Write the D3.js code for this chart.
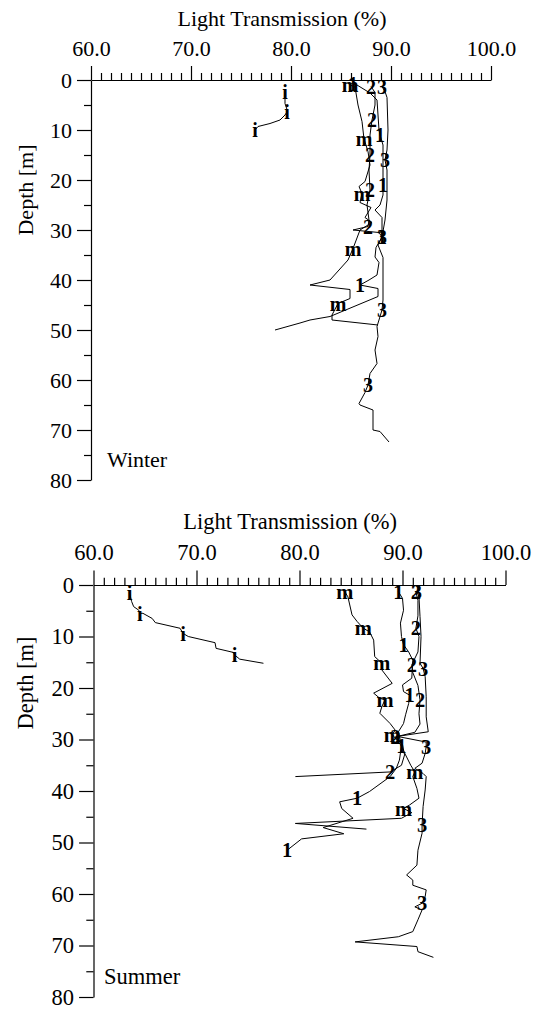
<!DOCTYPE html>
<html><head><meta charset="utf-8">
<script src="https://cdn.jsdelivr.net/npm/d3@7"></script>
<style>
body{margin:0;background:#fff}
</style>
</head><body>
<svg id="chart" width="545" height="1009" font-family="'Liberation Serif', 'Times New Roman', serif"></svg>
<script>
// ---------- axis definitions ----------
const xMajorTicks = [60, 70, 80, 90, 100];
const xTickLabels = ["60.0", "70.0", "80.0", "90.0", "100.0"];
const yMajorTicks = [0, 10, 20, 30, 40, 50, 60, 70, 80];
const yMinorTicks = [5, 15, 25, 35, 45, 55, 65, 75];
const xTitle = "Light Transmission (%)";
const yTitle = "Depth [m]";
const seasons = ["Winter", "Summer"];
const FONT = "'Liberation Serif', 'Times New Roman', serif";

// ---------- Winter data: [transmission %, depth m] ----------
const winterI = [[79.4,2.4],[79.4,3.3],[79.4,4.7],[79.6,5.9],[79.6,6.4],[79.4,7.0],[78.9,8.0],[77.9,8.7],[76.7,9.3],[76.4,10.0]];
const winterIMarks = [[79.4,2.4],[79.6,6.4],[76.4,10.0]];

const winterM = [[85.9,1.0],[86.4,1.4],[86.7,5.0],[87.1,8.3],[87.3,11.8],[87.7,14.3],[87.9,17.0],[87.4,20.3],[86.8,21.3],[87.1,22.7],[86.9,24.5],[88.0,25.5],[87.4,27.5],[88.1,28.5],[86.9,30.0],[86.2,33.7],[85.7,36.0],[83.9,40.0],[81.9,41.0],[85.9,41.9],[85.9,43.7],[84.7,44.7],[84.1,47.0],[84.1,48.0],[88.7,49.0]];
const winterMMarks = [[85.9,1.0],[87.3,11.8],[87.1,22.7],[86.2,33.7],[84.7,44.7]];

const winter1 = [[86.2,0.8],[86.6,1.0],[87.9,2.6],[88.6,4.0],[88.7,7.0],[88.8,10.0],[88.9,11.0],[89.2,13.0],[89.2,16.0],[89.2,19.0],[89.2,21.0],[89.2,23.0],[88.9,25.0],[88.4,26.0],[89.1,27.5],[89.1,30.0],[89.1,31.4],[88.5,33.5],[88.4,35.4],[88.8,36.5],[88.6,39.0],[87.8,40.0],[86.9,41.0],[88.7,41.7],[88.7,43.3],[83.9,47.3],[81.9,48.0],[80.9,48.6],[78.4,50.0]];
const winter1Marks = [[86.2,0.8],[88.9,11.0],[89.2,21.0],[89.1,31.4],[86.9,41.0]];

const winter2 = [[88.0,1.3],[88.4,2.5],[88.4,5.0],[88.1,8.0],[87.9,11.0],[87.9,15.0],[87.8,18.0],[87.9,22.0],[87.6,25.0],[87.8,28.0],[87.7,29.3],[86.2,30.0],[88.8,30.5],[89.1,31.4]];
const winter2Marks = [[88.0,1.3],[88.1,8.0],[87.9,15.0],[87.9,22.0],[87.7,29.3]];

const winter3 = [[89.1,1.3],[89.4,2.3],[89.6,3.5],[89.7,10.0],[89.6,14.0],[89.4,16.0],[89.6,18.0],[89.6,24.0],[89.4,28.0],[89.1,31.4],[88.7,33.0],[89.2,35.5],[89.2,40.0],[89.2,44.0],[89.1,46.0],[88.6,49.3],[88.7,51.3],[88.4,54.0],[88.6,56.7],[87.9,58.7],[87.7,61.0],[87.4,62.5],[86.8,64.7],[86.9,65.0],[88.2,66.0],[88.2,70.0],[88.9,70.3],[89.8,72.4]];
const winter3Marks = [[89.1,1.3],[89.4,16.0],[89.1,31.4],[89.1,46.0],[87.7,61.0]];

// ---------- Summer data: [transmission %, depth m] ----------
const summerI = [[63.5,1.6],[63.7,3.2],[63.9,4.2],[64.4,4.9],[64.5,5.5],[64.8,5.5],[65.7,6.5],[66.0,7.3],[68.4,8.4],[68.7,9.4],[69.2,10.0],[71.8,11.2],[71.9,12.3],[73.6,13.1],[73.7,13.6],[74.2,14.4],[76.5,15.2]];
const summerIMarks = [[63.5,1.6],[64.5,5.5],[68.7,9.4],[73.7,13.6]];

const summerM = [[84.4,1.3],[84.7,2.3],[85.1,5.8],[85.6,7.1],[86.2,8.4],[86.8,9.1],[87.2,10.7],[87.3,13.9],[88.0,15.2],[88.0,16.5],[89.0,19.1],[87.2,21.0],[87.8,22.0],[88.3,22.3],[88.0,23.6],[87.8,24.9],[88.8,26.9],[89.3,28.2],[89.0,29.0],[89.8,31.0],[90.3,33.0],[90.8,35.0],[91.2,36.3],[91.0,37.2],[91.4,39.5],[91.6,41.4],[90.7,42.7],[90.1,43.4],[90.9,44.2],[89.9,45.3],[79.6,46.3],[86.5,47.4]];
const summerMMarks = [[84.4,1.3],[86.2,8.4],[88.0,15.2],[88.3,22.3],[89.0,29.0],[91.2,36.3],[90.1,43.4]];

const summer1 = [[89.6,1.3],[90.0,2.6],[90.1,4.9],[89.8,7.4],[89.9,10.0],[90.1,11.6],[90.6,13.0],[91.0,14.6],[90.9,18.1],[90.0,19.4],[90.1,20.7],[90.7,21.4],[90.6,23.0],[90.3,25.2],[90.1,26.9],[89.6,28.5],[89.9,31.2],[89.7,34.0],[89.4,35.6],[88.8,37.2],[86.8,40.1],[85.6,41.4],[83.9,42.1],[84.1,43.4],[85.2,45.3],[82.3,47.1],[84.3,48.3],[80.2,49.3],[78.8,51.5]];
const summer1Marks = [[89.6,1.3],[90.1,11.6],[90.7,21.4],[89.9,31.2],[85.6,41.4],[78.8,51.5]];

const summer2 = [[91.3,1.3],[91.5,3.0],[91.5,6.0],[91.3,8.4],[91.6,10.0],[91.5,13.0],[90.9,15.5],[91.0,17.0],[91.5,19.5],[91.7,22.3],[91.6,25.0],[91.7,27.0],[91.2,28.6],[89.3,29.5],[90.0,31.0],[90.2,33.0],[89.9,35.0],[88.8,36.3],[79.6,37.2]];
const summer2Marks = [[91.3,1.3],[91.3,8.4],[90.9,15.5],[91.7,22.3],[89.3,29.5],[88.8,36.3]];

const summer3 = [[91.4,1.3],[91.6,2.3],[91.7,6.1],[91.8,10.0],[91.7,15.2],[92.0,16.2],[92.2,17.8],[92.3,21.7],[92.3,25.6],[92.5,28.5],[89.5,29.4],[92.3,30.5],[92.3,31.4],[92.2,32.7],[91.9,34.6],[91.2,35.6],[92.0,36.6],[92.3,37.2],[92.2,39.8],[92.0,43.0],[91.9,46.6],[91.9,48.2],[91.5,51.5],[91.4,54.4],[90.4,56.3],[91.0,57.3],[91.0,58.3],[92.3,59.2],[92.2,60.5],[91.9,61.8],[91.2,62.5],[91.9,63.1],[91.5,65.0],[91.0,67.3],[89.6,68.3],[85.4,69.3],[91.4,70.2],[91.5,71.2],[93.0,72.3]];
const summer3Marks = [[91.4,1.3],[92.0,16.2],[92.3,31.4],[91.9,46.6],[91.9,61.8]];

const winterSeries = [
  {name:"i", line:winterI, marks:winterIMarks},
  {name:"m", line:winterM, marks:winterMMarks},
  {name:"1", line:winter1, marks:winter1Marks},
  {name:"2", line:winter2, marks:winter2Marks},
  {name:"3", line:winter3, marks:winter3Marks}
];
const summerSeries = [
  {name:"i", line:summerI, marks:summerIMarks},
  {name:"m", line:summerM, marks:summerMMarks},
  {name:"1", line:summer1, marks:summer1Marks},
  {name:"2", line:summer2, marks:summer2Marks},
  {name:"3", line:summer3, marks:summer3Marks}
];

const svg = d3.select("#chart");

function styleText(sel, size, weight) {
  sel.attr("font-family", FONT).style("font-family", FONT)
     .style("font-size", size + "px").style("font-weight", weight || "normal")
     .attr("fill", "#000");
}

function drawPanel(cfg, series, season) {
  const g = svg.append("g");
  const x = d3.scaleLinear().domain([60, 100]).range([cfg.x0, cfg.x1]);
  const y = d3.scaleLinear().domain([0, 80]).range([cfg.y0, cfg.y1]);
  const fs = cfg.fs;
  const k = cfg.k;

  // minor x ticks
  const minorX = d3.range(61, 100).filter(v => v % 10 !== 0);
  g.append("g").attr("transform", `translate(0,${cfg.y0})`)
    .call(d3.axisTop(x).tickValues(minorX).tickSize(7*k).tickSizeOuter(0).tickFormat(""))
    .call(s => s.select(".domain").remove());
  // major x ticks
  const gx = g.append("g").attr("transform", `translate(0,${cfg.y0})`)
    .call(d3.axisTop(x).tickValues(xMajorTicks).tickSize(14*k).tickSizeOuter(0).tickPadding(10*k)
      .tickFormat((d,i) => xTickLabels[i]));
  gx.attr("font-family", FONT);
  styleText(gx.selectAll("text"), fs);

  // y axis
  g.append("g").attr("transform", `translate(${cfg.x0},0)`)
    .call(d3.axisLeft(y).tickValues(yMinorTicks).tickSize(7*k).tickSizeOuter(0).tickFormat(""))
    .call(s => s.select(".domain").remove());
  const gy = g.append("g").attr("transform", `translate(${cfg.x0},0)`)
    .call(d3.axisLeft(y).tickValues(yMajorTicks).tickSize(14*k).tickSizeOuter(0).tickPadding(5*k).tickFormat(d3.format("d")));
  gy.attr("font-family", FONT);
  styleText(gy.selectAll("text"), fs);

  g.selectAll(".domain, .tick line").attr("stroke", "#000").attr("stroke-width", 1.2);

  // titles
  styleText(g.append("text").attr("x", (cfg.x0 + cfg.x1) / 2 - 9*k).attr("y", cfg.titleY)
    .attr("text-anchor", "middle").text(xTitle), fs);
  styleText(g.append("text").attr("transform", `translate(${cfg.depthX},${cfg.depthY}) rotate(-90)`)
    .attr("text-anchor", "middle").text(yTitle), fs);
  styleText(g.append("text").attr("x", cfg.seasonX).attr("y", cfg.seasonY).text(season), fs);

  // profiles
  const line = d3.line().x(d => x(d[0])).y(d => y(d[1]));
  series.forEach(s => {
    g.append("path").datum(s.line).attr("d", line)
      .attr("fill", "none").attr("stroke", "#000").attr("stroke-width", 1)
      .attr("stroke-linejoin", "round");
  });
  series.forEach(s => {
    styleText(g.selectAll(null).data(s.marks).enter().append("text")
      .attr("x", d => x(d[0])).attr("y", d => y(d[1]))
      .attr("dy", "0.35em").attr("text-anchor", "middle")
      .text(s.name), cfg.ms, "bold");
  });
}

drawPanel({x0:91, x1:491, y0:80, y1:480, fs:22, k:1, ms:20, titleY:26,
  depthX:33, depthY:190, seasonX:107, seasonY:467}, winterSeries, seasons[0]);
drawPanel({x0:93.5, x1:505.5, y0:585, y1:997, fs:22.5, k:1.03, ms:20.5, titleY:529,
  depthX:33, depthY:683, seasonX:104, seasonY:984}, summerSeries, seasons[1]);
</script>
</body></html>
